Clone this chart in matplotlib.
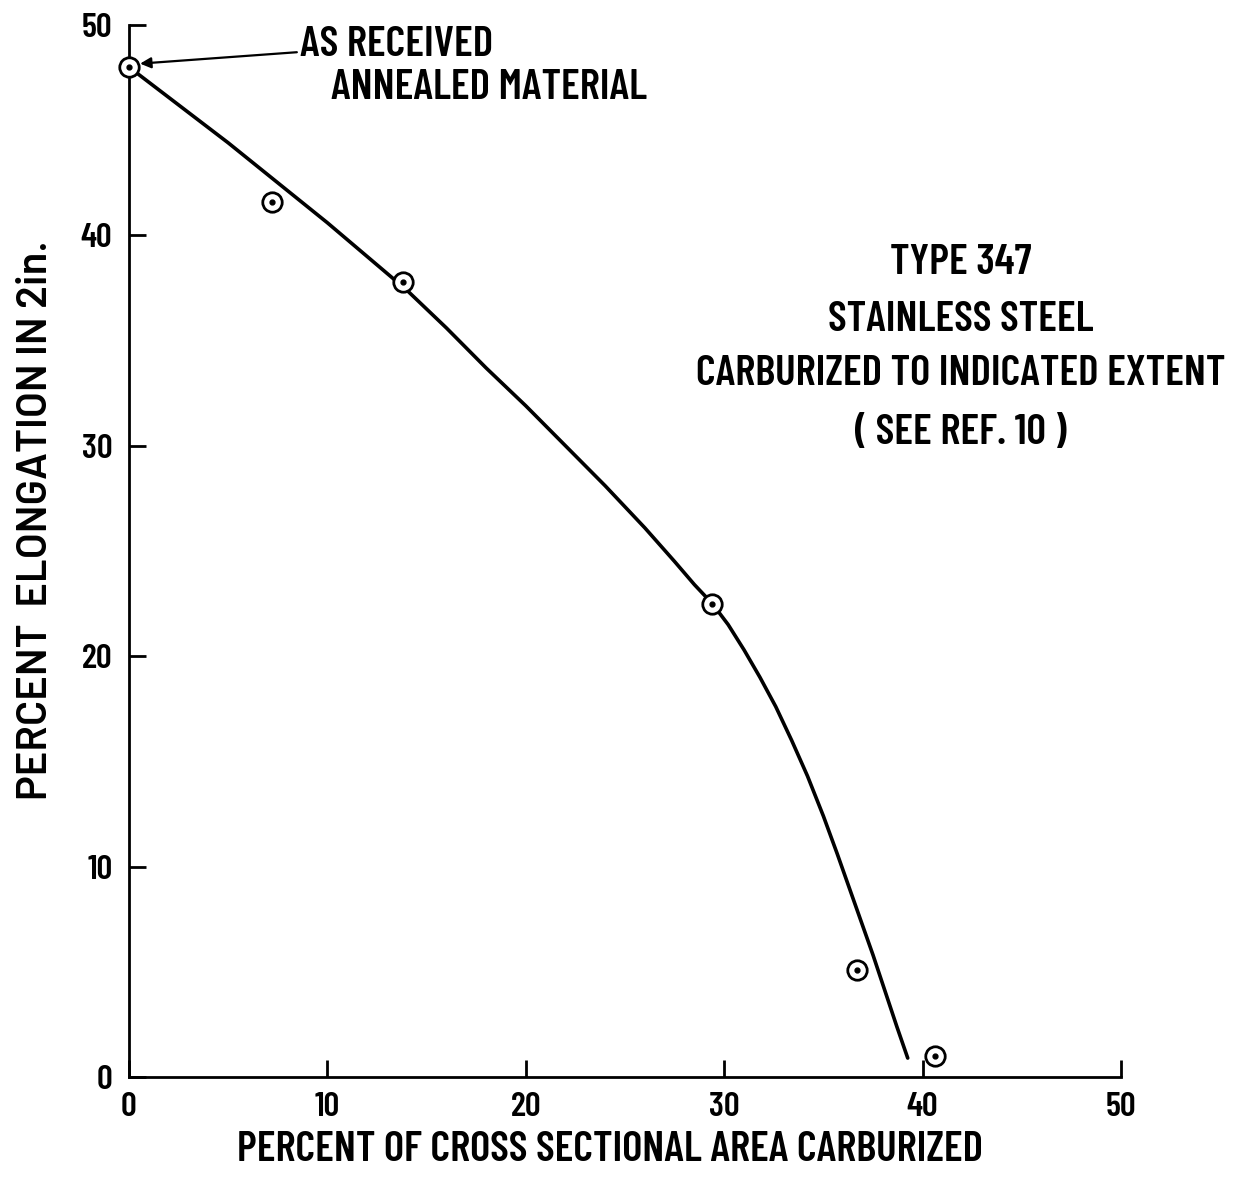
import matplotlib
matplotlib.use("Agg")
import matplotlib.pyplot as plt

# Data
pts_x = [0.0, 7.2, 13.8, 29.4, 36.7, 40.6]
pts_y = [48.0, 41.6, 37.8, 22.5, 5.1, 1.0]
curve_x = [0.0, 2.5, 5.0, 7.5, 10.0, 12.0, 14.0, 16.0, 18.0, 20.0, 22.0, 24.0, 26.0, 27.5, 28.5,
           29.4, 30.2, 31.0, 31.8, 32.6, 33.4, 34.2, 35.0, 35.7, 36.3, 36.9, 37.5, 38.1, 38.7, 39.25]
curve_y = [48.0, 46.2, 44.4, 42.5, 40.6, 39.0, 37.4, 35.6, 33.7, 31.9, 30.0, 28.1, 26.1, 24.5, 23.4,
           22.5, 21.5, 20.3, 19.0, 17.6, 16.0, 14.3, 12.4, 10.6, 9.0, 7.4, 5.8, 4.1, 2.4, 0.9]
xticks = [0, 10, 20, 30, 40, 50]
yticks = [0, 10, 20, 30, 40, 50]
xtick_labels = ["0", "10", "20", "30", "40", "50"]
ytick_labels = ["0", "10", "20", "30", "40", "50"]

plt.rcParams['font.family'] = ['Barlow Condensed', 'DejaVu Sans']
plt.rcParams['font.stretch'] = 'condensed'
plt.rcParams['font.weight'] = 600
plt.rcParams['axes.labelweight'] = 600

fig = plt.figure(figsize=(12.34, 11.77), dpi=100)
ax = fig.add_axes([129/1234, 1 - 1077/1177, (1121-129)/1234, (1077-25)/1177])
ax.set_xlim(0, 50)
ax.set_ylim(0, 50)

ax.plot(curve_x, curve_y, color='black', lw=2.6, clip_on=False, zorder=3,
        solid_capstyle='round', solid_joinstyle='round')
ax.plot(pts_x, pts_y, linestyle='none', marker='o', markersize=14, markerfacecolor='white',
        markeredgecolor='black', markeredgewidth=2.0, clip_on=False, zorder=4)
ax.plot(pts_x, pts_y, linestyle='none', marker='o', markersize=3.5, color='black', clip_on=False, zorder=5)

for s in ['top', 'right']:
    ax.spines[s].set_visible(False)
for s in ['left', 'bottom']:
    ax.spines[s].set_linewidth(2.0)

ax.set_xticks(xticks)
ax.set_xticklabels(xtick_labels, fontweight=600)
ax.set_yticks(yticks)
ax.set_yticklabels(ytick_labels, fontweight=600)
ax.tick_params(axis='both', direction='in', length=12, width=2, labelsize=25)
ax.tick_params(axis='x', pad=11)
ax.tick_params(axis='y', pad=12)

ax.set_xlabel("PERCENT OF CROSS SECTIONAL AREA CARBURIZED", fontsize=31)
ax.set_ylabel("PERCENT  ELONGATION IN 2in.", fontsize=30,
              family=['Barlow', 'DejaVu Sans'], fontstretch='normal')
ax.xaxis.set_label_coords((610-129)/992, (1077-1150)/1052)
ax.xaxis.label.set_va('center')
ax.yaxis.set_label_coords((36-129)/992, (1077-520)/1052)
ax.yaxis.label.set_va('center')
ax.yaxis.label.set_ha('center')

ax.annotate("AS RECEIVED", xy=(0.35, 48.15), xytext=(8.6, 49.05), fontsize=31,
            va='center', ha='left',
            arrowprops=dict(arrowstyle='-|>', color='black', lw=1.6, mutation_scale=16,
                            shrinkA=0, shrinkB=3))
ax.text(10.2, 47.0, "ANNEALED MATERIAL", fontsize=31, va='center', ha='left')

block = ["TYPE 347", "STAINLESS STEEL", "CARBURIZED TO INDICATED EXTENT", "( SEE REF. 10 )"]
ys = [38.7, 36.0, 33.4, 30.6]
for t, y in zip(block, ys):
    ax.text(41.9, y, t, fontsize=31, ha='center', va='center')

fig.savefig("out.png", dpi=100)
